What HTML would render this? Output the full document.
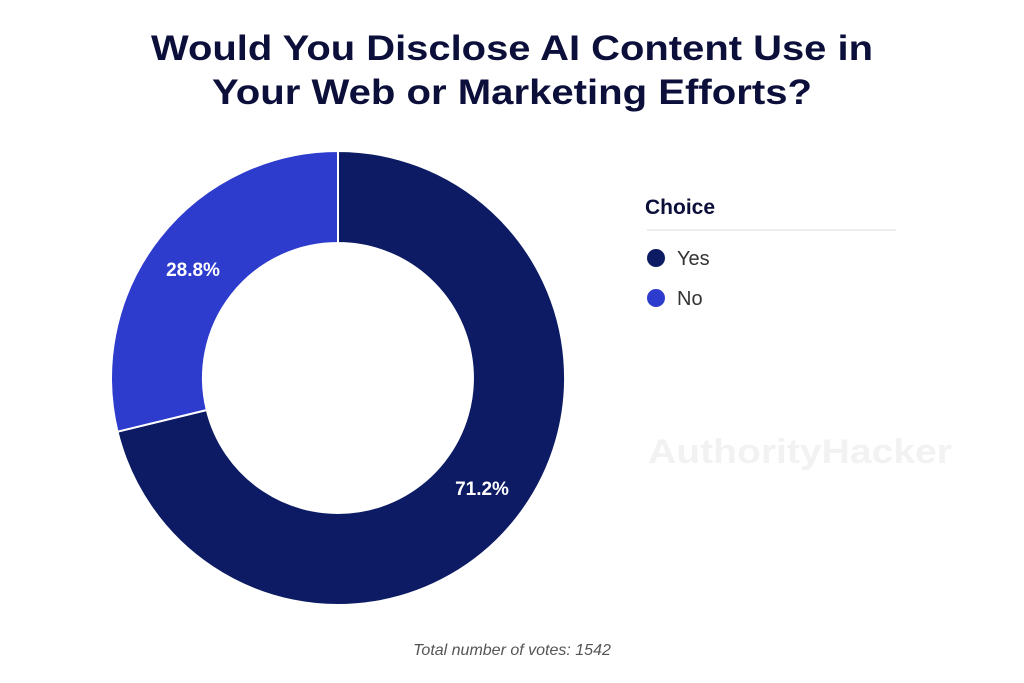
<!DOCTYPE html>
<html><head><style>
body{margin:0;background:#fff;width:1024px;height:678px;overflow:hidden;font-family:"Liberation Sans",sans-serif;}
</style></head><body>
<svg width="1024" height="678" viewBox="0 0 1024 678" xmlns="http://www.w3.org/2000/svg">
<text x="512" y="60" text-anchor="middle" font-family="Liberation Sans" font-weight="bold" font-size="35" fill="#0b0f3a" textLength="722" lengthAdjust="spacingAndGlyphs">Would You Disclose AI Content Use in</text>
<text x="512" y="104" text-anchor="middle" font-family="Liberation Sans" font-weight="bold" font-size="35" fill="#0b0f3a" textLength="600" lengthAdjust="spacingAndGlyphs">Your Web or Marketing Efforts?</text>
<path d="M338 151 A227 227 0 1 1 117.5 431.7 L206.8 410 A135 135 0 1 0 338 243 Z" fill="#0c1b63" stroke="#fff" stroke-width="2"/>
<path d="M117.5 431.7 A227 227 0 0 1 338 151 L338 243 A135 135 0 0 0 206.8 410 Z" fill="#2e3ccd" stroke="#fff" stroke-width="2"/>
<text x="193" y="276" text-anchor="middle" font-weight="bold" font-size="19" fill="#fff">28.8%</text>
<text x="482" y="495" text-anchor="middle" font-weight="bold" font-size="19" fill="#fff">71.2%</text>
<text x="645" y="214" font-weight="bold" font-size="21" fill="#0b0f3a">Choice</text>
<line x1="647" y1="230" x2="896" y2="230" stroke="#eee" stroke-width="2"/>
<circle cx="656" cy="258" r="9" fill="#0c1b63"/>
<text x="677" y="265" font-size="20" fill="#333">Yes</text>
<circle cx="656" cy="298" r="9" fill="#2e3ccd"/>
<text x="677" y="305" font-size="20" fill="#333">No</text>
<text x="648" y="463" font-weight="bold" font-size="34" fill="#f2f2f2" textLength="304" lengthAdjust="spacingAndGlyphs">AuthorityHacker</text>
<text x="512" y="655" text-anchor="middle" font-style="italic" font-size="16" fill="#555">Total number of votes: 1542</text>
</svg>
</body></html>
